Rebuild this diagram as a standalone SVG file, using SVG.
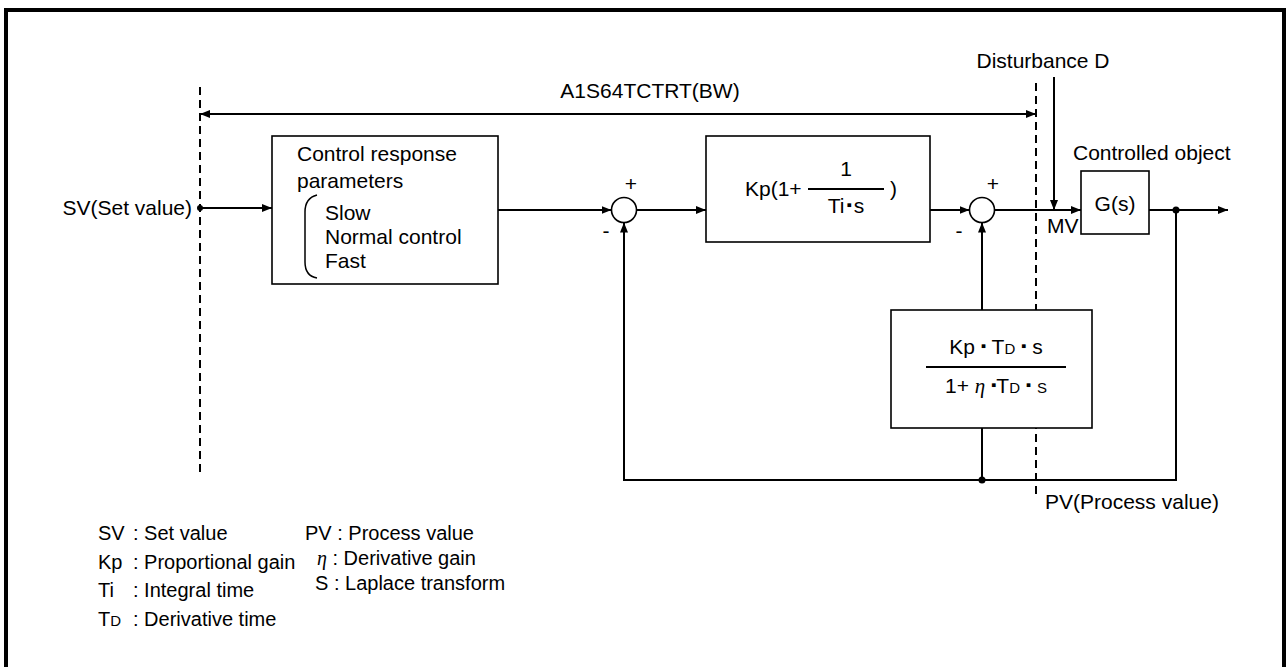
<svg xmlns="http://www.w3.org/2000/svg" width="1286" height="667" viewBox="0 0 1286 667">
<style>
text{font-family:"Liberation Sans",Arial,sans-serif;font-size:21px;fill:#000}
.lg{font-size:20px}
.box{fill:#fff;stroke:#000;stroke-width:1.6}
.ln{fill:none;stroke:#000;stroke-width:2}
.dash{fill:none;stroke:#000;stroke-width:2;stroke-dasharray:8 5}
.eta{font-family:"Liberation Serif",serif;font-style:italic}
.sub{font-size:15px}
</style>
<defs>
<marker id="ah" viewBox="0 0 10 8" refX="10" refY="4" markerWidth="10" markerHeight="8" markerUnits="userSpaceOnUse" orient="auto-start-reverse">
<path d="M0,0 L10,4 L0,8 z" fill="#000"/>
</marker>
</defs>
<rect x="6" y="10" width="1278" height="700" fill="#fff" stroke="#000" stroke-width="4"/>

<g id="boundary">
<line class="dash" x1="200" y1="87" x2="200" y2="472"/>
<line class="dash" x1="1036" y1="83" x2="1036" y2="498"/>
<text x="650" y="98" text-anchor="middle">A1S64TCTRT(BW)</text>
</g>

<g id="connectors">
<line class="ln" x1="200" y1="114" x2="1036" y2="114" marker-start="url(#ah)" marker-end="url(#ah)"/>
<line class="ln" x1="200" y1="208" x2="272" y2="208" marker-end="url(#ah)"/>
<line class="ln" x1="498" y1="210" x2="611.5" y2="210" marker-end="url(#ah)"/>
<line class="ln" x1="636.5" y1="210" x2="706" y2="210" marker-end="url(#ah)"/>
<line class="ln" x1="930" y1="210" x2="969.5" y2="210" marker-end="url(#ah)"/>
<line class="ln" x1="994.5" y1="210" x2="1081" y2="210" marker-end="url(#ah)"/>
<line class="ln" x1="1054" y1="77" x2="1054" y2="210" marker-end="url(#ah)"/>
<line class="ln" x1="1149" y1="210" x2="1228" y2="210" marker-end="url(#ah)"/>
<polyline class="ln" points="1176,210 1176,480 624,480 624,222.5" marker-end="url(#ah)"/>
<line class="ln" x1="982" y1="310" x2="982" y2="222.5" marker-end="url(#ah)"/>
<line class="ln" x1="982" y1="428" x2="982" y2="480"/>
<circle cx="200" cy="208" r="3" fill="#000"/>
<circle cx="1176" cy="210" r="3.5" fill="#000"/>
<circle cx="982" cy="480" r="3.5" fill="#000"/>
</g>

<g id="sv-label">
<text x="192" y="215" text-anchor="end">SV(Set value)</text>
</g>

<g id="control-response">
<rect class="box" x="272" y="136" width="226" height="148"/>
<text x="297" y="161">Control response</text>
<text x="297" y="188">parameters</text>
<path d="M317,195 Q305,198 305,212 L305,262 Q305,276 317,278" fill="none" stroke="#000" stroke-width="1.5"/>
<text x="325" y="220">Slow</text>
<text x="325" y="244">Normal control</text>
<text x="325" y="268">Fast</text>
</g>

<g id="sum1">
<circle cx="624" cy="210" r="12.5" fill="#fff" stroke="#000" stroke-width="1.6"/>
<text x="631" y="191" text-anchor="middle">+</text>
<text x="606" y="238" text-anchor="middle">-</text>
</g>

<g id="pi-block">
<rect class="box" x="706" y="136" width="224" height="106"/>
<text x="745" y="196">Kp(1+</text>
<line x1="808" y1="189" x2="884" y2="189" stroke="#000" stroke-width="2"/>
<text x="846" y="176" text-anchor="middle">1</text>
<text x="846" y="213" text-anchor="middle">Ti<tspan font-size="15" dx="2" dy="-3">▪</tspan><tspan dx="2" dy="3">s</tspan></text>
<text x="890" y="196">)</text>
</g>

<g id="sum2">
<circle cx="982" cy="210" r="12.5" fill="#fff" stroke="#000" stroke-width="1.6"/>
<text x="993" y="191" text-anchor="middle">+</text>
<text x="959" y="238" text-anchor="middle">-</text>
</g>

<g id="disturbance">
<text x="1043" y="68" text-anchor="middle">Disturbance D</text>
<text x="1047" y="233">MV</text>
</g>

<g id="controlled-object">
<text x="1073" y="160">Controlled object</text>
<rect class="box" x="1081" y="171" width="68" height="63"/>
<text x="1115" y="211" text-anchor="middle">G(s)</text>
</g>

<g id="d-block">
<rect class="box" x="891" y="310" width="201" height="118"/>
<text x="996" y="354" text-anchor="middle">Kp <tspan font-size="15" dy="-3">▪</tspan><tspan dy="3"> T</tspan><tspan class="sub">D</tspan> <tspan font-size="15" dy="-3">▪</tspan><tspan dy="3"> s</tspan></text>
<line x1="926" y1="367" x2="1066" y2="367" stroke="#000" stroke-width="2"/>
<text x="996" y="393" text-anchor="middle">1+ <tspan class="eta">η</tspan> <tspan font-size="15" dy="-3">▪</tspan><tspan dy="3">T</tspan><tspan class="sub">D</tspan> <tspan font-size="15" dy="-3">▪</tspan><tspan dy="3"> </tspan><tspan class="sub">S</tspan></text>
</g>

<g id="pv-label">
<text x="1045" y="509">PV(Process value)</text>
</g>

<g id="legend">
<text class="lg" x="98" y="540">SV</text><text class="lg" x="133" y="540">: Set value</text>
<text class="lg" x="98" y="569">Kp</text><text class="lg" x="133" y="569">: Proportional gain</text>
<text class="lg" x="98" y="597">Ti</text><text class="lg" x="133" y="597">: Integral time</text>
<text class="lg" x="98" y="626">T<tspan class="sub">D</tspan></text><text class="lg" x="133" y="626">: Derivative time</text>
<text class="lg" x="305" y="540">PV : Process value</text>
<text class="lg" x="317" y="565"><tspan class="eta">η</tspan> : Derivative gain</text>
<text class="lg" x="315" y="590">S : Laplace transform</text>
</g>
</svg>
